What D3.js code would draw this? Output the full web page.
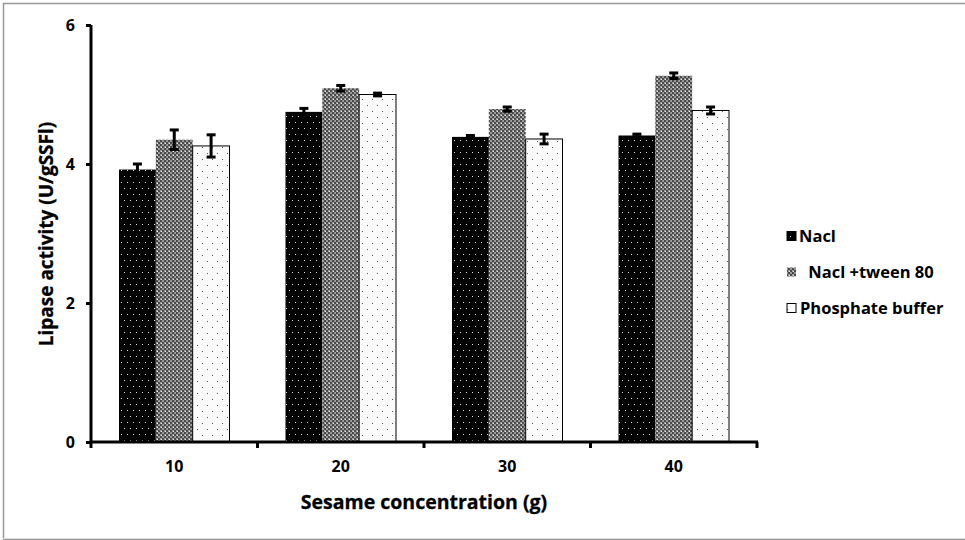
<!DOCTYPE html>
<html><head><meta charset="utf-8">
<script src="https://cdn.jsdelivr.net/npm/d3@7"></script>
<style>body{margin:0;background:#fff}svg{display:block}text{font-family:"Open Sans",Lato,sans-serif;font-weight:bold}</style>
</head><body>
<script>
const categories = ["10","20","30","40"];
const seriesNames = ["Nacl","Nacl +tween 80","Phosphate buffer"];
const nacl = [3.92, 4.75, 4.39, 4.41];
const naclTween = [4.35, 5.09, 4.79, 5.27];
const phosphate = [4.26, 5.00, 4.36, 4.77];
const naclErr = [0.08, 0.05, 0.02, 0.02];
const naclTweenErr = [0.14, 0.04, 0.03, 0.04];
const phosphateErr = [0.16, 0.02, 0.07, 0.05];
const yTicks = [0, 2, 4, 6];

const values = [nacl, naclTween, phosphate];
const errs = [naclErr, naclTweenErr, phosphateErr];
const W = 965, H = 540;
const FONT = "'Open Sans', Lato, sans-serif";
const svg = d3.select("body").append("svg").attr("width", W).attr("height", H);
const defs = svg.append("defs");

// patterns
const p0 = defs.append("pattern").attr("id","pBlack").attr("patternUnits","userSpaceOnUse").attr("width",6).attr("height",12);
p0.append("rect").attr("width",6).attr("height",12).attr("fill","#000");
p0.append("rect").attr("x",1).attr("y",2).attr("width",1).attr("height",1).attr("fill","#ddd");
p0.append("rect").attr("x",4).attr("y",8).attr("width",1).attr("height",1).attr("fill","#ddd");
const p1 = defs.append("pattern").attr("id","pGray").attr("patternUnits","userSpaceOnUse").attr("width",4).attr("height",4);
p1.append("rect").attr("width",4).attr("height",4).attr("fill","#9a9a9a");
p1.append("rect").attr("x",0).attr("y",0).attr("width",2).attr("height",2).attr("fill","#4a4a4a");
p1.append("rect").attr("x",2).attr("y",2).attr("width",2).attr("height",2).attr("fill","#4a4a4a");
p1.append("rect").attr("x",1).attr("y",3).attr("width",1).attr("height",1).attr("fill","#eee");
const p2 = defs.append("pattern").attr("id","pWhite").attr("patternUnits","userSpaceOnUse").attr("width",10).attr("height",12);
p2.append("rect").attr("width",10).attr("height",12).attr("fill","#fbfbfb");
p2.append("rect").attr("x",2).attr("y",3).attr("width",1).attr("height",1).attr("fill","#555");
p2.append("rect").attr("x",7).attr("y",9).attr("width",1).attr("height",1).attr("fill","#555");
const fills = ["url(#pBlack)","url(#pGray)","url(#pWhite)"];
const strokes = ["#000","none","#000"];

// frame
svg.append("rect").attr("x",3.5).attr("y",3.5).attr("width",W+10).attr("height",H-4).attr("fill","none").attr("stroke","#999").attr("stroke-width",1.5);
svg.append("line").attr("x1",3).attr("x2",W).attr("y1",538.5).attr("y2",538.5).attr("stroke","#ddd");

const x0 = d3.scaleBand().domain(categories).range([91, 757]).paddingInner(0).paddingOuter(0);
const x1 = d3.scaleBand().domain(d3.range(3)).range([0, x0.bandwidth()]).paddingInner(0).paddingOuter(0.76);
const y = d3.scaleLinear().domain([0, 6]).range([442, 25]);

const g = svg.append("g");
categories.forEach((c, ci) => {
  values.forEach((vals, si) => {
    const bx = x0(c) + x1(si);
    g.append("rect").attr("x", bx).attr("y", y(vals[ci])).attr("width", x1.bandwidth()).attr("height", y(0) - y(vals[ci]))
      .attr("fill", fills[si]).attr("stroke", strokes[si]).attr("stroke-width", si===2?1:0);
  });
});
// error bars
categories.forEach((c, ci) => {
  values.forEach((vals, si) => {
    const cx = x0(c) + x1(si) + x1.bandwidth()/2;
    const v = vals[ci], e = errs[si][ci];
    g.append("line").attr("x1",cx).attr("x2",cx).attr("y1",y(v+e)).attr("y2",y(v-e)).attr("stroke","#000").attr("stroke-width",3);
    [v+e, v-e].forEach(t => g.append("line").attr("x1",cx-4.5).attr("x2",cx+4.5).attr("y1",y(t)).attr("y2",y(t)).attr("stroke","#000").attr("stroke-width",3));
  });
});

// y axis
const yAxis = svg.append("g").attr("transform","translate(91,0)")
  .call(d3.axisLeft(y).tickValues(yTicks).tickFormat(d3.format("d")).tickSize(5).tickPadding(11));
yAxis.select(".domain").attr("stroke","#000").attr("stroke-width",3).attr("d","M0,442V25");
yAxis.selectAll(".tick line").attr("stroke","#000").attr("stroke-width",3);
yAxis.selectAll(".tick text").attr("font-size",16).attr("fill","#000").attr("font-weight","bold").attr("font-family",FONT);

// x axis
const xAxis = svg.append("g").attr("transform","translate(0,442)")
  .call(d3.axisBottom(x0).tickSize(0).tickPadding(19));
xAxis.select(".domain").attr("stroke","#000").attr("stroke-width",3).attr("d","M89.5,0H758");
xAxis.selectAll(".tick text").attr("font-size",16).attr("fill","#000").attr("font-weight","bold").attr("font-family",FONT);
const edges = categories.map(c => x0(c)).concat([x0(categories[categories.length-1]) + x0.bandwidth()]);
xAxis.selectAll(".edge").data(edges).enter().append("line").attr("class","edge")
  .attr("x1", d => d).attr("x2", d => d).attr("y1", 0).attr("y2", 6).attr("stroke","#000").attr("stroke-width",3);

// titles
svg.append("text").attr("x", 424).attr("y", 509).attr("text-anchor","middle").attr("font-size",19.5).attr("fill","#000").attr("stroke","#000").attr("stroke-width",0.3).text("Sesame concentration (g)");
svg.append("text").attr("transform","translate(53,234) rotate(-90)").attr("text-anchor","middle").attr("font-size",19).attr("fill","#000").attr("stroke","#000").attr("stroke-width",0.3).text("Lipase activity (U/gSSFl)");

// legend
const legY = [236, 272, 308];
const legTx = [799, 804, 800];
seriesNames.forEach((n, i) => {
  svg.append("rect").attr("x", 787).attr("y", legY[i]-4.5).attr("width", 9).attr("height", 9)
    .attr("fill", fills[i]).attr("stroke", i===1?"none":"#000").attr("stroke-width", 1);
  svg.append("text").attr("x", legTx[i]).attr("y", legY[i]).attr("dy","0.35em").attr("font-size",16.5).attr("fill","#000").text(i===1 ? " " + n : n).attr("xml:space","preserve");
});
</script>
</body></html>
